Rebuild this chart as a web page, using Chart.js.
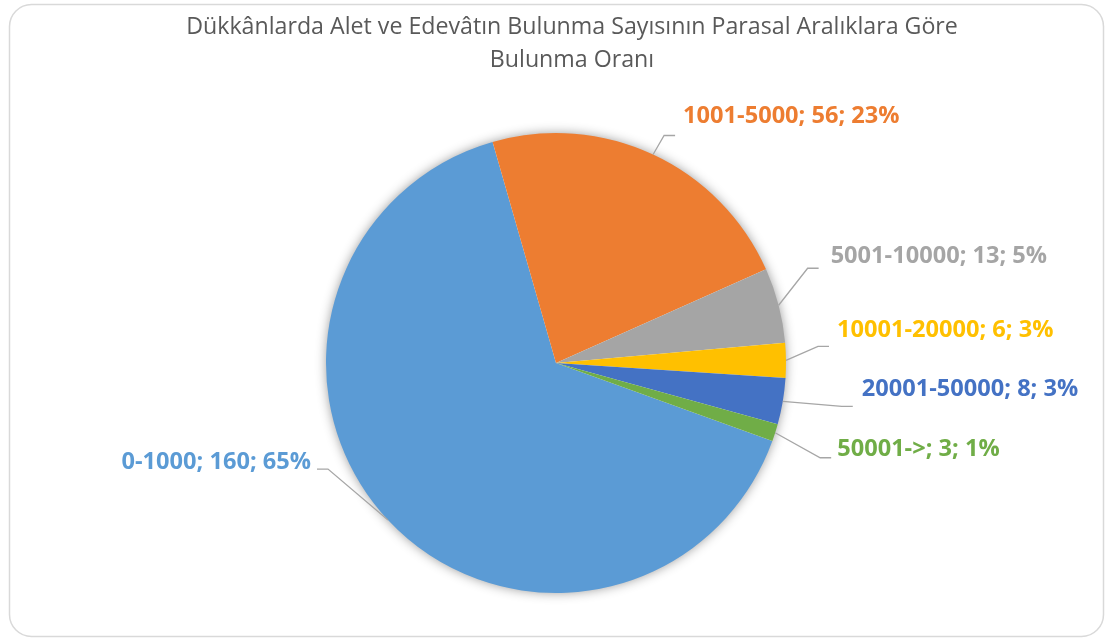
<!DOCTYPE html>
<html>
<head>
<meta charset="utf-8">
<script src="https://cdn.jsdelivr.net/npm/chart.js@4.4.1/dist/chart.umd.min.js"></script>
<style>
  html, body { margin: 0; padding: 0; background: #fff; }
  #wrap { width: 1106px; height: 638px; }
</style>
</head>
<body>
<div id="wrap"><canvas id="pie" width="1106" height="638"></canvas></div>
<script>
// Chart data
const titleLines = ['Dükkânlarda Alet ve Edevâtın Bulunma Sayısının Parasal Aralıklara Göre', 'Bulunma Oranı'];
const categories = ['0-1000', '1001-5000', '5001-10000', '10001-20000', '20001-50000', '50001->'];
const counts = [160, 56, 13, 6, 8, 3];
const percentLabels = ['65%', '23%', '5%', '3%', '3%', '1%'];

const sliceColors = ['#5B9BD5', '#ED7D31', '#A5A5A5', '#FFC000', '#4472C4', '#70AD47'];

// label placement relative to the point on the pie edge (text anchor, elbow of leader line)
const labelLayout = [
  { text: [-77, -58], elbow: [-60, -51], side: -1 },
  { text: [30, -38], elbow: [11, -19], side: 1 },
  { text: [52, -49], elbow: [29, -37], side: 1 },
  { text: [51, -30], elbow: [32, -14], side: 1 },
  { text: [79, -12], elbow: [59, 5], side: 1 },
  { text: [62, 17], elbow: [45, 25], side: 1 }
];

const TITLE_FONT = '23.2px "Open Sans"';
const LABEL_FONT = 'bold 23.6px "Open Sans"';

// frame, title, pie shadow and the outside labels like Excel draws them
const excelPie = {
  id: 'excelPie',
  beforeDraw(chart) {
    const ctx = chart.ctx;
    ctx.save();
    ctx.strokeStyle = '#D9D9D9';
    ctx.lineWidth = 1.5;
    ctx.beginPath();
    ctx.roundRect(9.5, 4.5, 1094, 632, 22);
    ctx.stroke();

    ctx.fillStyle = '#595959';
    ctx.font = TITLE_FONT;
    ctx.textAlign = 'center';
    ctx.textBaseline = 'middle';
    ctx.fillText(titleLines[0], 572, 27);
    ctx.fillText(titleLines[1], 572, 60);
    ctx.restore();
  },
  beforeDatasetsDraw(chart) {
    const arc = chart.getDatasetMeta(0).data[0];
    if (!arc) return;
    const ctx = chart.ctx;
    ctx.save();
    ctx.shadowColor = 'rgba(0,0,0,0.45)';
    ctx.shadowBlur = 12;
    ctx.fillStyle = '#fff';
    ctx.beginPath();
    ctx.arc(arc.x, arc.y, arc.outerRadius - 1, 0, Math.PI * 2);
    ctx.fill();
    ctx.restore();
  },
  afterDatasetsDraw(chart) {
    const ctx = chart.ctx;
    const arcs = chart.getDatasetMeta(0).data;
    ctx.save();
    arcs.forEach((arc, i) => {
      const mid = (arc.startAngle + arc.endAngle) / 2;
      const ex = arc.x + Math.cos(mid) * arc.outerRadius;
      const ey = arc.y + Math.sin(mid) * arc.outerRadius;
      const lay = labelLayout[i];
      const bx = ex + lay.elbow[0], by = ey + lay.elbow[1];

      ctx.strokeStyle = '#A6A6A6';
      ctx.lineWidth = 1.3;
      ctx.beginPath();
      ctx.moveTo(ex, ey);
      ctx.lineTo(bx, by);
      ctx.lineTo(bx + 11 * lay.side, by);
      ctx.stroke();

      ctx.font = LABEL_FONT;
      ctx.fillStyle = sliceColors[i];
      ctx.textAlign = lay.side > 0 ? 'left' : 'right';
      ctx.textBaseline = 'middle';
      const txt = categories[i] + '; ' + counts[i] + '; ' + percentLabels[i];
      ctx.fillText(txt, ex + lay.text[0], ey + lay.text[1]);
    });
    ctx.restore();
  }
};

new Chart(document.getElementById('pie'), {
  type: 'pie',
  data: {
    labels: categories,
    datasets: [{
      data: counts,
      backgroundColor: sliceColors,
      borderWidth: 0,
      hoverOffset: 0
    }]
  },
  options: {
    responsive: false,
    animation: false,
    rotation: 109.85,
    layout: { padding: { top: 133, bottom: 45, left: 326, right: 320 } },
    plugins: {
      legend: { display: false },
      tooltip: { enabled: false },
      title: { display: false }
    }
  },
  plugins: [excelPie]
});
</script>
</body>
</html>
